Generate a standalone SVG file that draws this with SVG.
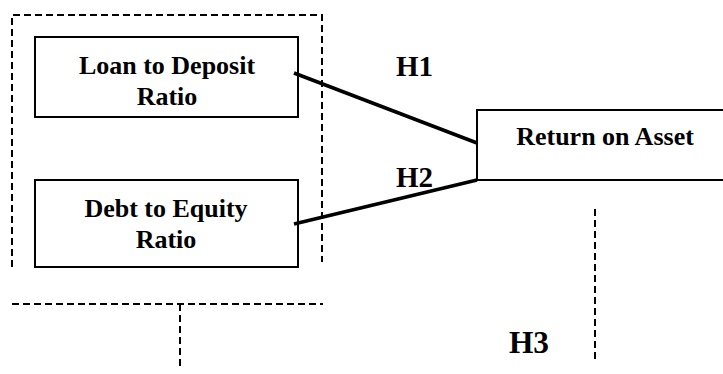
<svg xmlns="http://www.w3.org/2000/svg" width="723" height="374" viewBox="0 0 723 374">
  <style>
    .box { fill: #fff; stroke: #000; stroke-width: 2; }
    .lbl { font-family: "Liberation Serif", "Times New Roman", serif; font-weight: bold; font-size: 26px; fill: #000; text-anchor: middle; }
    .hyp { font-family: "Liberation Serif", "Times New Roman", serif; font-weight: bold; fill: #000; }
    .dash { fill: none; stroke: #000; stroke-width: 2; stroke-dasharray: 7 4; }
    .link { stroke: #000; stroke-width: 3.5; stroke-linecap: butt; }
  </style>
  <rect width="723" height="374" fill="#fff"/>

  <!-- dashed grouping frame around the independent variables -->
  <g id="frame">
    <path class="dash" d="M12 267 V15 H322 V262"/>
  </g>

  <!-- dashed guide lines -->
  <g id="guides">
    <path class="dash" d="M12 304 H323"/>
    <path class="dash" d="M180 304 V370"/>
    <path class="dash" d="M595 209 V362"/>
  </g>

  <g id="ldr">
    <rect class="box" x="35" y="37" width="263" height="80"/>
    <text class="lbl" x="167" y="74">Loan to Deposit</text>
    <text class="lbl" x="167" y="105">Ratio</text>
  </g>

  <g id="der">
    <rect class="box" x="35" y="180" width="263" height="87"/>
    <text class="lbl" x="166" y="217">Debt to Equity</text>
    <text class="lbl" x="166" y="248">Ratio</text>
  </g>

  <g id="roa">
    <rect class="box" x="477" y="110" width="270" height="70"/>
    <text class="lbl" x="605" y="145">Return on Asset</text>
  </g>

  <g id="connectors">
    <line class="link" x1="294" y1="73" x2="477" y2="143"/>
    <line class="link" x1="294" y1="224" x2="477" y2="180"/>
  </g>

  <g id="labels">
    <text class="hyp" x="396" y="76" font-size="29">H1</text>
    <text class="hyp" x="396" y="187" font-size="29">H2</text>
    <text class="hyp" x="509" y="353" font-size="32" textLength="40" lengthAdjust="spacingAndGlyphs">H3</text>
  </g>
</svg>
